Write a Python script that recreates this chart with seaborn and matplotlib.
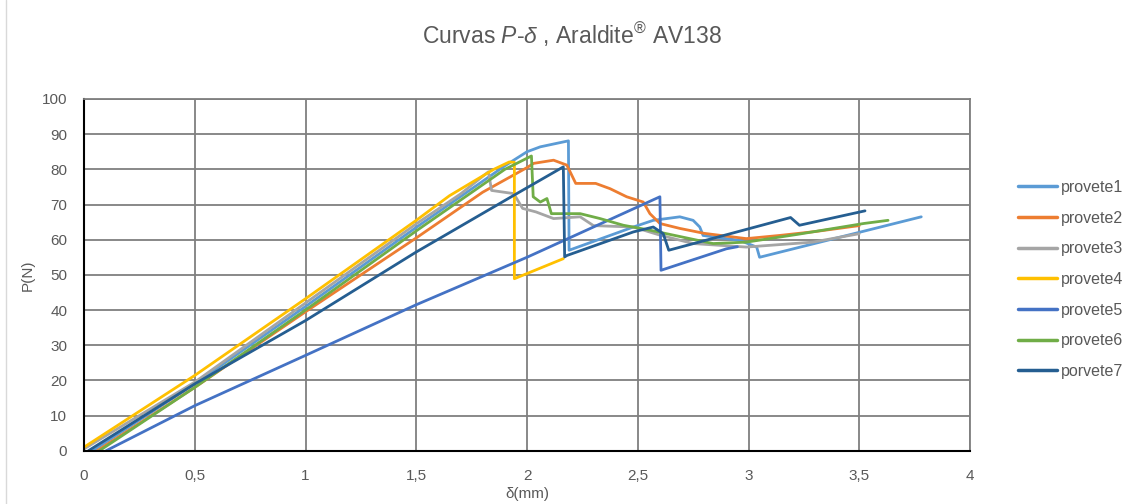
import numpy as np
import pandas as pd
import matplotlib
matplotlib.use("Agg")
import matplotlib.pyplot as plt
import seaborn as sns

# curvas P-delta (delta em mm, P em N)
p1_x = [0.04, 0.5, 1.0, 1.5, 1.9, 2.0, 2.06, 2.187, 2.19, 2.3, 2.48, 2.57, 2.69, 2.75, 2.78, 2.795, 2.96, 3.037, 3.05, 3.78]
p1_y = [0, 19, 41, 63.5, 81, 85, 86.4, 88.1, 57, 59.5, 63.6, 65.5, 66.5, 65.5, 63.6, 61.2, 59.8, 57.9, 55, 66.5]

p2_x = [0.06, 0.5, 1.0, 1.5, 1.8, 1.9, 2.0, 2.03, 2.12, 2.18, 2.22, 2.31, 2.375, 2.45, 2.525, 2.555, 2.6, 2.69, 2.8, 2.99, 3.14, 3.3, 3.5]
p2_y = [0, 18, 39.5, 60.5, 73.5, 77, 80.5, 81.7, 82.6, 81.2, 76, 76, 74.5, 72.2, 70.7, 67.4, 64.6, 63.2, 61.8, 60.3, 61.2, 62.3, 64]

p3_x = [0, 0.5, 1.0, 1.5, 1.7, 1.826, 1.84, 1.94, 1.98, 2.04, 2.12, 2.24, 2.30, 2.48, 2.6, 2.75, 2.99, 3.29, 3.5]
p3_y = [0.5, 19.5, 42, 64.5, 73, 79.3, 74, 73.1, 68.9, 67.9, 66, 66.5, 64, 63.6, 61.3, 58.9, 57.9, 59.3, 61.7]

p4_x = [0, 0.5, 1.0, 1.5, 1.65, 1.85, 1.92, 1.943, 1.943, 2.164]
p4_y = [1, 21.4, 43.2, 65.5, 72.5, 80, 82.1, 82, 48.9, 54.6]

p5_x = [0.1, 0.5, 1.0, 1.5, 2.0, 2.6, 2.605, 2.9, 2.95]
p5_y = [0, 12.8, 27.1, 41.5, 55, 72.2, 51.3, 57.4, 58]

p6_x = [0.07, 0.5, 1.0, 1.5, 1.9, 2.02, 2.028, 2.06, 2.09, 2.11, 2.24, 2.33, 2.435, 2.555, 2.735, 2.84, 2.99, 3.22, 3.52, 3.63]
p6_y = [0, 18, 40, 62.5, 80, 83.8, 72.2, 70.7, 71.7, 67.4, 67.4, 66, 64.1, 62.7, 60.3, 58.9, 59.3, 61.5, 64.6, 65.5]

p7_x = [0.02, 0.5, 1.0, 1.5, 1.94, 2.164, 2.17, 2.18, 2.48, 2.57, 2.615, 2.64, 3.19, 3.23, 3.526]
p7_y = [0, 19, 37, 56.5, 72.6, 80.7, 55.1, 55.5, 62.2, 63.6, 61.7, 57, 66.3, 64.1, 68.2]

labels = ['provete1', 'provete2', 'provete3', 'provete4', 'provete5', 'provete6', 'porvete7']
colors = ['#5B9BD5', '#ED7D31', '#A5A5A5', '#FFC000', '#4472C4', '#70AD47', '#255E91']
x_ticks = [0, 0.5, 1, 1.5, 2, 2.5, 3, 3.5, 4]
x_tick_labels = ['0', '0,5', '1', '1,5', '2', '2,5', '3', '3,5', '4']
y_ticks = [0, 10, 20, 30, 40, 50, 60, 70, 80, 90, 100]

xs = [p1_x, p2_x, p3_x, p4_x, p5_x, p6_x, p7_x]
ys = [p1_y, p2_y, p3_y, p4_y, p5_y, p6_y, p7_y]
frames = []
for name, x, y in zip(labels, xs, ys):
    frames.append(pd.DataFrame({'d': x, 'P': y, 'provete': name}))
df = pd.concat(frames, ignore_index=True)

sns.set_style("white")
plt.rcParams['font.family'] = ['Liberation Sans', 'DejaVu Sans']
plt.rcParams['mathtext.fontset'] = 'custom'
plt.rcParams['mathtext.rm'] = 'Liberation Sans'
plt.rcParams['mathtext.it'] = 'Liberation Sans:italic'

txt = '#595959'
fig = plt.figure(figsize=(11.32, 5.04), dpi=100)
ax = fig.add_axes([84 / 1132, 1 - 450.7 / 504, 886 / 1132, 351.7 / 504])

sns.lineplot(data=df, x='d', y='P', hue='provete', palette=colors, hue_order=labels,
             sort=False, estimator=None, lw=2, ax=ax)

ax.set_xlim(0, 4)
ax.set_ylim(0, 100)
ax.set_xticks(x_ticks)
ax.set_xticklabels(x_tick_labels)
ax.set_yticks(y_ticks)
ax.grid(True, color='#7f7f7f', lw=1.3)
ax.set_axisbelow(True)
for s in ['top', 'right']:
    ax.spines[s].set_color('#7f7f7f')
    ax.spines[s].set_linewidth(1.3)
for s in ['left', 'bottom']:
    ax.spines[s].set_color('black')
    ax.spines[s].set_linewidth(1.5)
ax.tick_params(length=0, labelsize=11, labelcolor=txt)
ax.tick_params(axis='x', pad=13)
ax.tick_params(axis='y', pad=12)
ax.set_xlabel('δ(mm)', fontsize=11, color=txt, labelpad=3)
ax.set_ylabel('P(N)', fontsize=11, color=txt, labelpad=5)

h, l = ax.get_legend_handles_labels()
ax.get_legend().remove()
leg = fig.legend(h, l, loc='center left', bbox_to_anchor=(1018 / 1132, 0.4454), frameon=False,
                 fontsize=11.5, handlelength=2.45, handletextpad=0.25, labelspacing=0.98,
                 borderpad=0, borderaxespad=0)
for t in leg.get_texts():
    t.set_color(txt)
for ln in leg.get_lines():
    ln.set_linewidth(2.5)

fig.text(0.505, 1 - 35 / 504, r'Curvas $\it{P}$-$\it{\delta}$ , Araldite$^{\rm ®}$ AV138',
         ha='center', va='center', fontsize=16.5, color=txt)

# moldura do grafico
fig.add_artist(plt.Line2D([6 / 1132, 6 / 1132], [0, 1], color='#d9d9d9', lw=1))

fig.savefig('out.png', dpi=100)
